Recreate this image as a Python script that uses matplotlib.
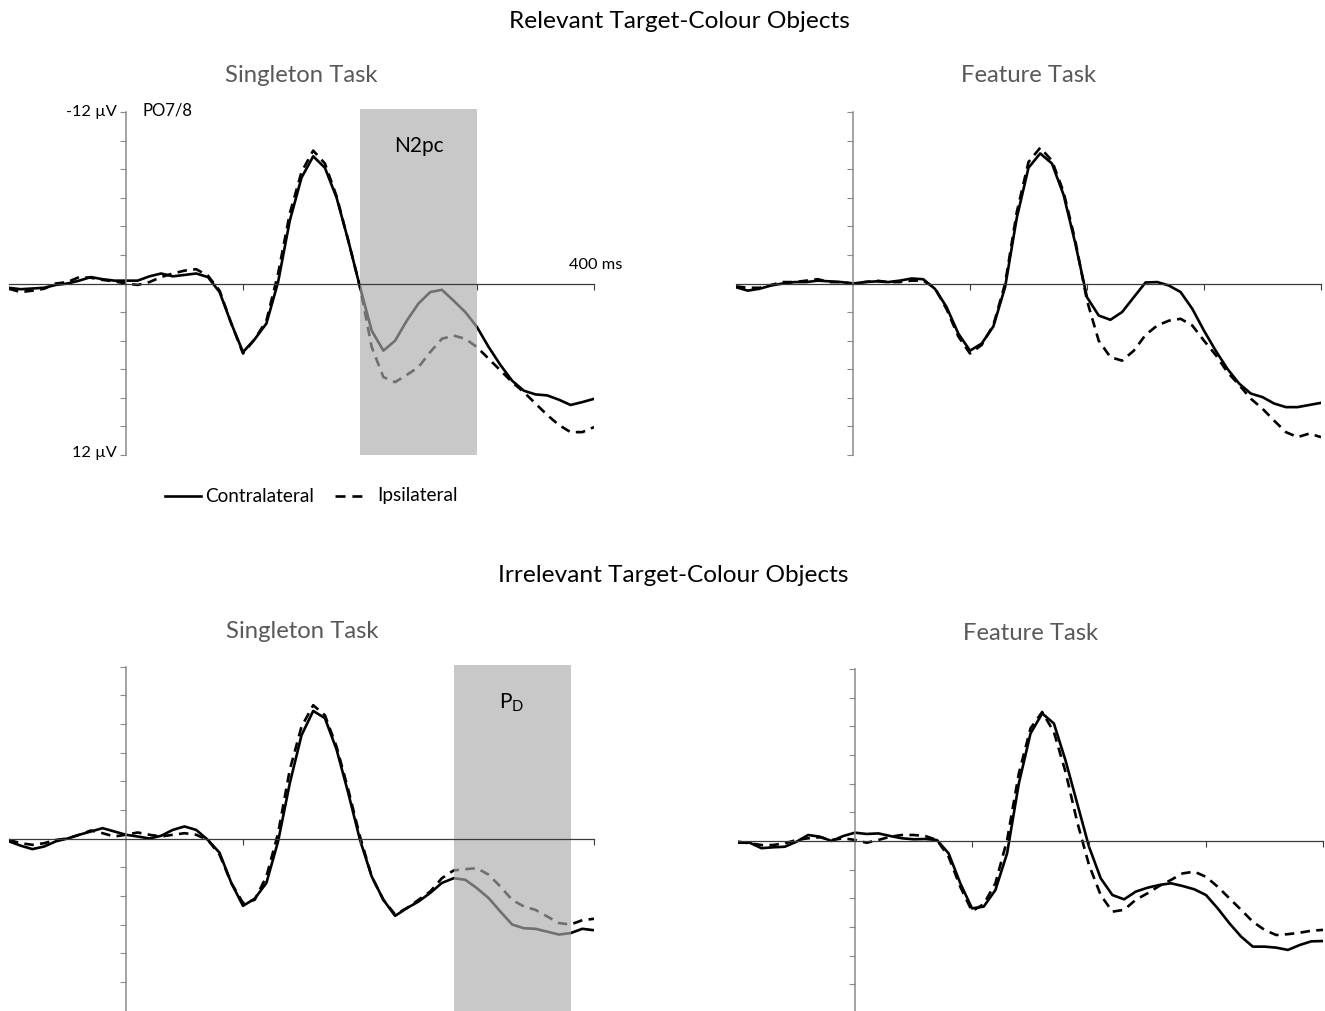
import numpy as np
import matplotlib
matplotlib.use("Agg")
import matplotlib.pyplot as plt
from matplotlib.patches import Rectangle
from matplotlib.lines import Line2D

plt.rcParams['font.family'] = ['Lato', 'DejaVu Sans']

# time samples (ms)
t = np.arange(-100, 401, 10)

# Relevant target-colour objects, singleton task (PO7/8, µV)
rel_single_contra = [0.3, 0.4, 0.35, 0.3, 0.1, 0.0, -0.2, -0.45, -0.3, -0.2,
                     -0.2, -0.2, -0.5, -0.7, -0.5, -0.6, -0.7, -0.45, 0.6, 2.8,
                     4.8, 3.9, 2.8, -0.1, -4.4, -7.4, -8.9, -8.1, -6.0, -3.0,
                     0.25, 3.3, 4.7, 4.0, 2.6, 1.4, 0.6, 0.44, 1.2, 2.0,
                     3.05, 4.45, 5.7, 6.8, 7.5, 7.76, 7.83, 8.13, 8.5, 8.3, 8.07]
rel_single_ipsi = [0.37, 0.6, 0.5, 0.37, 0.0, -0.1, -0.45, -0.4, -0.25, -0.15,
                   0.0, 0.1, -0.1, -0.45, -0.7, -0.9, -1.0, -0.55, 0.5, 2.8,
                   4.9, 3.9, 2.6, -0.7, -4.9, -7.8, -9.3, -8.4, -6.1, -3.0,
                   0.25, 4.45, 6.55, 6.9, 6.4, 5.85, 4.8, 3.87, 3.64, 3.87,
                   4.45, 5.27, 6.08, 6.9, 7.6, 8.4, 9.2, 9.9, 10.4, 10.4, 10.05]

# Relevant target-colour objects, feature task
rel_feat_contra = [0.26, 0.5, 0.37, 0.14, 0.0, -0.1, -0.1, -0.2, -0.15, -0.1,
                   0.0, -0.1, -0.15, -0.1, -0.2, -0.35, -0.3, 0.37, 1.65, 3.5,
                   4.7, 4.2, 3.0, 0.25, -4.6, -8.1, -9.1, -8.4, -6.2, -2.8,
                   0.96, 2.24, 2.54, 2.0, 0.96, -0.07, -0.1, 0.14, 0.6, 1.77,
                   3.3, 4.7, 5.97, 7.0, 7.7, 7.95, 8.4, 8.65, 8.65, 8.5, 8.35]
rel_feat_ipsi = [0.2, 0.3, 0.3, 0.1, -0.1, -0.1, -0.2, -0.3, -0.1, -0.1,
                 0.0, -0.1, -0.2, -0.1, -0.1, -0.2, -0.2, 0.3, 1.8, 3.7,
                 4.9, 4.3, 2.9, 0.0, -5.0, -8.5, -9.5, -8.6, -6.4, -3.0,
                 1.2, 4.0, 5.15, 5.4, 4.7, 3.6, 2.94, 2.6, 2.47, 2.94,
                 4.0, 5.0, 6.2, 7.1, 8.06, 8.76, 9.6, 10.4, 10.75, 10.5, 10.75]

# Irrelevant target-colour objects, singleton task
irr_single_contra = [0.2, 0.5, 0.74, 0.56, 0.2, 0.0, -0.26, -0.49, -0.72, -0.49,
                     -0.26, -0.14, 0.0, -0.19, -0.6, -0.84, -0.6, 0.1, 1.0, 3.1,
                     4.7, 4.2, 3.1, 0.2, -3.86, -7.2, -8.9, -8.4, -6.2, -3.16,
                     0.1, 2.65, 4.28, 5.4, 4.86, 4.4, 3.8, 3.1, 2.77, 2.88,
                     3.47, 4.16, 5.1, 6.0, 6.26, 6.3, 6.5, 6.7, 6.6, 6.3, 6.4]
irr_single_ipsi = [0.1, 0.33, 0.44, 0.33, 0.1, 0.0, -0.26, -0.56, -0.37, -0.14,
                   -0.26, -0.42, -0.26, -0.14, -0.26, -0.37, -0.26, 0.1, 1.14, 3.1,
                   4.5, 4.28, 2.65, -0.37, -4.8, -7.8, -9.3, -8.6, -6.4, -3.4,
                   -0.14, 2.65, 4.28, 5.3, 4.86, 4.28, 3.7, 2.77, 2.23, 2.14,
                   2.07, 2.53, 3.35, 4.28, 4.74, 4.98, 5.44, 5.9, 6.0, 5.7, 5.6]

# Irrelevant target-colour objects, feature task
irr_feat_contra = [0.12, 0.12, 0.5, 0.44, 0.4, 0.05, -0.42, -0.3, 0.0, -0.35,
                   -0.58, -0.49, -0.53, -0.35, -0.19, -0.12, -0.14, -0.07, 0.86, 2.95,
                   4.7, 4.58, 3.42, 0.86, -4.0, -7.5, -8.9, -8.2, -5.6, -2.6,
                   0.4, 2.6, 3.77, 4.07, 3.53, 3.26, 3.07, 2.95, 3.14, 3.37,
                   3.77, 4.7, 5.74, 6.67, 7.37, 7.37, 7.44, 7.6, 7.26, 7.0, 6.98]
irr_feat_ipsi = [0.05, 0.16, 0.28, 0.28, 0.16, -0.07, -0.19, -0.26, -0.07, -0.19,
                 -0.07, 0.12, -0.07, -0.3, -0.42, -0.42, -0.35, -0.07, 1.1, 3.2,
                 4.9, 4.4, 2.95, -0.07, -4.7, -7.86, -9.0, -7.6, -4.8, -1.3,
                 1.67, 3.77, 4.93, 4.8, 4.1, 3.65, 3.14, 2.72, 2.26, 2.14,
                 2.5, 3.19, 4.0, 4.8, 5.63, 6.2, 6.56, 6.5, 6.4, 6.26, 6.2]

W, H = 1325, 1011
fig = plt.figure(figsize=(W / 100, H / 100), dpi=100)

DASH = (0, (3.6, 2.4))
SHADE = "#c8c8c8"
INGRAY = "#707070"


def make_axes(x0, y_top, y_bot):
    # pixel box -> figure fraction (x0 = pixel of -100 ms, width of 500 ms = 585 px)
    return fig.add_axes([x0 / W, 1 - y_bot / H, 585 / W, (y_bot - y_top) / H])


def panel(ax, contra, ipsi, window=None):
    ax.set_xlim(-100, 400)
    ax.set_ylim(12, -12)
    ax.patch.set_visible(False)
    for s in ["top", "right"]:
        ax.spines[s].set_visible(False)
    ax.spines["left"].set_position(("data", 0))
    ax.spines["bottom"].set_position(("data", 0))
    ax.spines["left"].set_bounds(-12, 12)
    ax.spines["left"].set_color("#8a8a8a")
    ax.spines["bottom"].set_color("#3a3a3a")
    ax.spines["left"].set_linewidth(1.1)
    ax.spines["bottom"].set_linewidth(0.9)
    ax.spines["left"].set_zorder(5)
    ax.spines["bottom"].set_zorder(5)
    ax.set_yticks(np.arange(-12, 13, 2))
    ax.set_xticks([100, 200, 300, 400])
    ax.tick_params(axis="y", direction="out", length=4, color="#8a8a8a", labelleft=False)
    ax.tick_params(axis="x", direction="out", length=4, color="#3a3a3a", labelbottom=False)

    ax.plot(t, contra, color="black", lw=1.9, zorder=1, solid_joinstyle="round")
    ax.plot(t, ipsi, color="black", lw=1.9, ls=DASH, zorder=1)

    if window is not None:
        x0, x1, ytop, ybot = window
        rect = Rectangle((x0, ytop), x1 - x0, ybot - ytop, facecolor=SHADE,
                         edgecolor="none", zorder=2, clip_on=False)
        ax.add_patch(rect)
        l1, = ax.plot(t, contra, color=INGRAY, lw=1.9, zorder=3, solid_joinstyle="round")
        l2, = ax.plot(t, ipsi, color=INGRAY, lw=1.9, ls=DASH, zorder=3)
        l1.set_clip_path(rect)
        l2.set_clip_path(rect)
    return ax


ax1 = panel(make_axes(9, 112, 455), rel_single_contra, rel_single_ipsi,
            window=(200, 300, -12.2, 12))
ax2 = panel(make_axes(736, 112, 455), rel_feat_contra, rel_feat_ipsi)
ax3 = panel(make_axes(9, 666.5, 1010.5), irr_single_contra, irr_single_ipsi,
            window=(280, 380, -12.1, 12))
ax4 = panel(make_axes(738, 669, 1013), irr_feat_contra, irr_feat_ipsi)

# titles
fig.text(679 / W, 1 - 22 / H, "Relevant Target-Colour Objects", ha="center", va="center",
         fontsize=17.6, color="black")
fig.text(673 / W, 1 - 575 / H, "Irrelevant Target-Colour Objects", ha="center", va="center",
         fontsize=17.6, color="black")
sub_kw = dict(ha="center", va="center", fontsize=17.2, color="#595959")
fig.text(301 / W, 1 - 75 / H, "Singleton Task", **sub_kw)
fig.text(1029 / W, 1 - 75 / H, "Feature Task", **sub_kw)
fig.text(302 / W, 1 - 631 / H, "Singleton Task", **sub_kw)
fig.text(1031 / W, 1 - 633 / H, "Feature Task", **sub_kw)

# axis annotations
fig.text(117 / W, 1 - 112 / H, "-12 µV", ha="right", va="center", fontsize=11.8)
fig.text(117 / W, 1 - 453 / H, "12 µV", ha="right", va="center", fontsize=11.8)
fig.text(143 / W, 1 - 111 / H, "PO7/8", ha="left", va="center", fontsize=12)
fig.text(569 / W, 1 - 265 / H, "400 ms", ha="left", va="center", fontsize=11.8)
ax1.text(250, -9.6, "N2pc", ha="center", va="center", fontsize=15)
ax3.text(330, -9.5, r"P$_\mathregular{D}$", ha="center", va="center", fontsize=15)

# legend (drawn by hand to match spacing)
ly = 1 - 496 / H
fig.add_artist(Line2D([165 / W, 201 / W], [ly, ly], color="black", lw=1.9))
fig.text(205 / W, ly, "Contralateral", ha="left", va="center", fontsize=13.7)
fig.add_artist(Line2D([335 / W, 362 / W], [ly, ly], color="black", lw=1.9,
                      ls=(0, (3.8, 2.6))))
fig.text(377 / W, ly, "Ipsilateral", ha="left", va="center", fontsize=13.7)

fig.savefig("out.png", dpi=100)
